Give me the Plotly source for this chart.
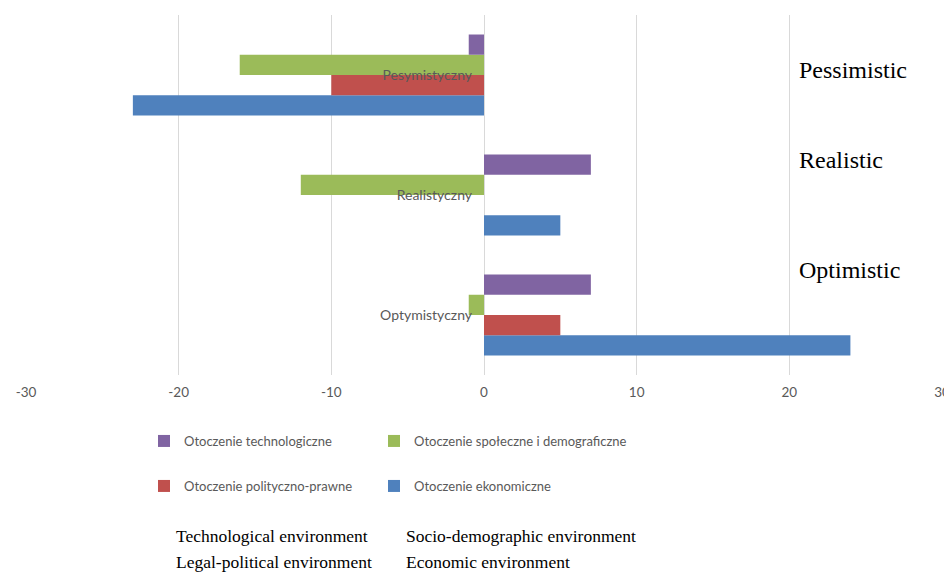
import plotly.graph_objects as go

# Scenario categories (bottom to top on the axis)
scenarios = ["Optymistyczny", "Realistyczny", "Pesymistyczny"]

# Series values per scenario, same order as `scenarios`
ekonomiczne = [24, 5, -23]
polityczno_prawne = [5, 0, -10]
spoleczne = [-1, -12, -16]
technologiczne = [7, 7, -1]

series_names = [
    "Otoczenie ekonomiczne",
    "Otoczenie polityczno-prawne",
    "Otoczenie społeczne i demograficzne",
    "Otoczenie technologiczne",
]
series_values = [ekonomiczne, polityczno_prawne, spoleczne, technologiczne]
series_colors = ["#4F81BD", "#C0504D", "#9BBB59", "#8064A2"]
series_legend = ["legend2", "legend2", "legend", "legend"]
series_rank = [2, 1, 2, 1]
series_entry_w = [330, 185, 330, 185]

x_ticks = [-30, -20, -10, 0, 10, 20, 30]

# English captions
scenario_captions = ["Pessimistic", "Realistic", "Optimistic"]
legend_captions = [
    "Technological environment",
    "Legal-political environment",
    "Socio-demographic environment",
    "Economic environment",
]

W, H = 944, 574
L, R, T, B = 26, 2, 15, 199
plot_h = H - T - B
plot_w = W - L - R


def px_to_paper_x(px):
    return (px - L) / plot_w


def px_to_paper_y(py):
    return (H - B - py) / plot_h


fig = go.Figure()
for name, vals, col, lg, rk, ew in zip(series_names, series_values, series_colors,
                                       series_legend, series_rank, series_entry_w):
    fig.add_trace(go.Bar(
        y=scenarios, x=vals, name=name, orientation="h",
        marker=dict(color=col, line=dict(width=0)),
        legend=lg, legendrank=rk, legendwidth=ew,
    ))

label_font = dict(family="Lato, 'Open Sans', sans-serif", size=13, color="#595959")
cat_font = dict(family="Lato, 'Open Sans', sans-serif", size=14, color="#595959")

fig.update_layout(
    width=W, height=H,
    margin=dict(l=L, r=R, t=T, b=B),
    paper_bgcolor="white", plot_bgcolor="white",
    barmode="group", bargap=0.325, bargroupgap=0,
    font=label_font,
    xaxis=dict(
        range=[-30, 30], tickvals=x_ticks, ticktext=[str(v) for v in x_ticks],
        showgrid=True, gridcolor="#D9D9D9", gridwidth=1,
        zeroline=True, zerolinecolor="#D9D9D9", zerolinewidth=1,
        showline=False, ticks="", tickfont=dict(label_font, size=13.5),
        ticklabelstandoff=7, ticklabeloverflow="allow",
        automargin=False, fixedrange=True,
    ),
    yaxis=dict(
        categoryorder="array", categoryarray=scenarios,
        anchor="free", position=0.5, side="left",
        showgrid=False, zeroline=False, showline=False, ticks="",
        tickfont=cat_font, ticklabelstandoff=12, automargin=False,
        fixedrange=True,
    ),
    legend=dict(
        orientation="h", x=px_to_paper_x(144), y=px_to_paper_y(441),
        xanchor="left", yanchor="middle",
        font=label_font, bgcolor="rgba(0,0,0,0)",
    ),
    legend2=dict(
        orientation="h", x=px_to_paper_x(144), y=px_to_paper_y(486),
        xanchor="left", yanchor="middle",
        font=label_font, bgcolor="rgba(0,0,0,0)",
    ),
)

serif = dict(family="'Liberation Serif', 'Times New Roman', serif", color="black")

# Scenario captions at the right side
for text, py in zip(scenario_captions, [70, 160, 270]):
    fig.add_annotation(
        text=text, xref="paper", yref="paper",
        x=px_to_paper_x(797), y=px_to_paper_y(py),
        xanchor="left", yanchor="middle", showarrow=False,
        font=dict(size=24, **serif),
    )

# Legend captions below the chart
for text, (px, py) in zip(legend_captions,
                          [(174, 536), (174, 562), (404, 536), (404, 562)]):
    fig.add_annotation(
        text=text, xref="paper", yref="paper",
        x=px_to_paper_x(px), y=px_to_paper_y(py),
        xanchor="left", yanchor="middle", showarrow=False,
        font=dict(size=17.5, **serif),
    )

fig.write_html("out.html")
